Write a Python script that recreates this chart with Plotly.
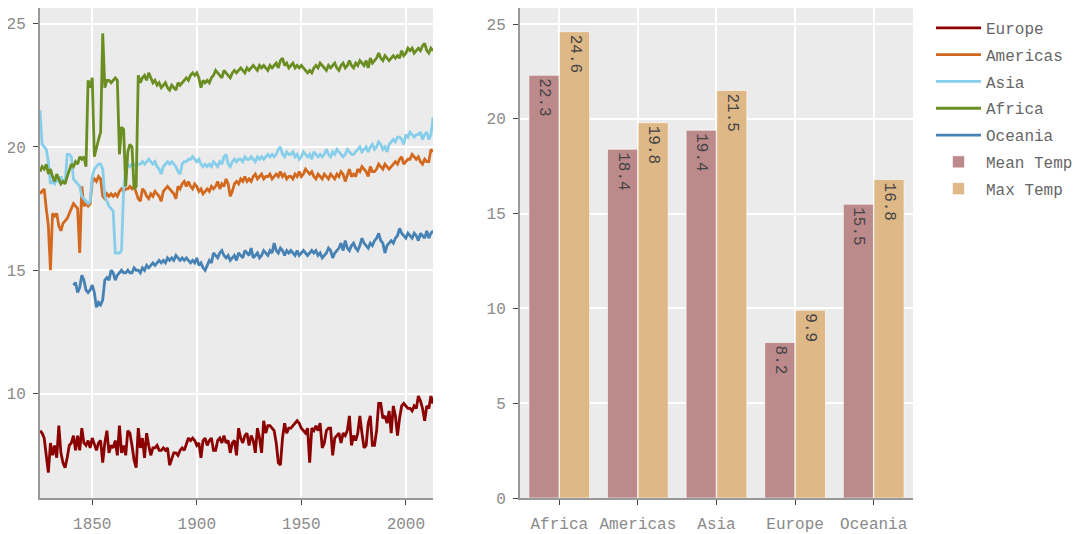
import plotly.graph_objects as go

YEARS = list(range(1825, 2014))

EUROPE = [
    8.5, 8.4, 8.2, 7.6, 6.8, 8.0, 7.5, 7.9, 7.4, 8.7,
    7.6, 7.2, 7.0, 7.4, 7.9, 8.0, 8.3, 7.7, 8.3, 7.7,
    8.6, 8.0, 7.9, 8.1, 7.8, 8.2, 7.9, 7.7, 8.0, 8.1,
    7.2, 8.0, 8.5, 7.6, 7.9, 7.8, 8.1, 7.5, 8.7, 7.6,
    7.9, 7.5, 8.5, 8.4, 7.9, 7.3, 7.0, 8.6, 7.8, 8.2,
    7.4, 8.4, 7.9, 7.5, 7.8, 7.8, 7.9, 7.7, 7.7, 7.8,
    7.7, 7.8, 7.1, 7.4, 7.6, 7.6, 7.5, 7.7, 7.8, 7.7,
    8.0, 8.2, 8.1, 8.2, 8.1, 7.9, 8.0, 7.4, 8.1, 8.2,
    7.9, 8.1, 8.2, 7.7, 7.7, 8.1, 8.2, 8.0, 8.3, 8.0,
    8.1, 7.6, 8.0, 8.1, 7.5, 8.6, 8.2, 8.0, 8.3, 8.4,
    7.9, 8.3, 8.1, 7.6, 8.6, 8.2, 7.6, 8.9, 8.4, 8.7,
    8.7, 8.6, 8.5, 8.0, 7.2, 7.1, 8.2, 8.8, 8.4, 8.6,
    8.6, 8.7, 8.8, 8.9, 8.8, 8.6, 8.5, 8.4, 8.6, 7.2,
    8.6, 8.5, 8.7, 8.5, 8.8, 7.8, 8.0, 8.5, 8.6, 8.6,
    7.5, 8.2, 8.3, 8.4, 8.0, 8.4, 8.3, 8.5, 9.1, 7.9,
    8.3, 8.1, 8.4, 9.1, 8.4, 7.8, 7.9, 8.8, 9.1, 7.9,
    7.9, 8.5, 9.6, 9.6, 9.0, 9.1, 8.8, 9.3, 8.4, 9.5,
    9.1, 8.3, 9.0, 9.5, 9.6, 9.5, 9.4, 9.4, 9.3, 9.5,
    9.4, 9.9, 9.7, 9.4, 8.9, 9.5, 9.4, 9.9, 9.6,
]

AMERICAS = [
    18.1, 18.2, 18.3, 17.5, 16.8, 15.0, 17.3, 17.2, 17.3, 16.8,
    16.6, 16.9, 17.0, 17.1, 17.3, 17.5, 17.7, 17.6, 17.5, 15.7,
    18.4, 17.6, 17.7, 17.6, 17.7, 18.6, 18.7, 18.6, 18.8, 18.7,
    18.0, 17.9, 18.1, 18.0, 18.1, 18.0, 18.1, 18.0, 18.2, 18.3,
    18.2, 18.3, 18.3, 18.4, 18.3, 18.4, 18.1, 17.9, 17.8, 18.3,
    18.2, 18.0, 17.9, 18.1, 18.0, 18.2, 18.1, 18.0, 17.8, 18.2,
    18.3, 18.4, 18.3, 18.2, 18.1, 17.9, 18.4, 18.3, 18.5, 18.6,
    18.4, 18.6, 18.4, 18.3, 18.5, 18.4, 18.2, 18.3, 18.1, 18.2,
    18.3, 18.2, 18.4, 18.3, 18.4, 18.6, 18.3, 18.5, 18.4, 18.7,
    18.5, 18.0, 18.2, 18.5, 18.6, 18.5, 18.7, 18.6, 18.8, 18.6,
    18.7, 18.6, 18.8, 18.9, 18.7, 18.8, 18.9, 18.7, 18.8, 18.8,
    18.9, 18.7, 18.8, 18.9, 18.8, 19.0, 18.8, 18.9, 18.7, 18.8,
    18.8, 18.7, 18.9, 18.8, 19.0, 18.8, 18.9, 19.1, 19.0, 18.9,
    19.0, 18.8, 18.7, 18.9, 18.8, 18.7, 18.9, 18.8, 18.7, 18.9,
    18.8, 18.7, 18.9, 18.8, 19.0, 18.9, 18.6, 18.9, 19.1, 18.8,
    18.9, 18.8, 19.1, 19.0, 19.2, 19.1, 19.0, 18.8, 19.2, 19.0,
    19.0, 19.1, 19.3, 19.2, 19.1, 19.3, 19.2, 19.1, 19.2, 19.3,
    19.4, 19.3, 19.5, 19.6, 19.3, 19.4, 19.5, 19.5, 19.7, 19.6,
    19.5, 19.6, 19.4, 19.3, 19.5, 19.4, 19.4, 19.9, 19.8,
]

ASIA = [
    21.5, 20.1, 20.0, 19.9, 19.4, 18.5, 18.6, 18.5, 18.7, 18.6,
    18.8, 18.6, 18.5, 19.7, 19.7, 19.6, 18.7, 18.6, 18.5, 18.4,
    18.0, 17.9, 17.8, 17.7, 17.8, 18.8, 19.1, 19.2, 19.3, 19.3,
    19.1, 18.0, 17.8, 17.6, 17.5, 17.4, 15.7, 15.7, 15.7, 15.8,
    18.3, 19.0, 19.3, 19.2, 19.3, 19.3, 19.2, 19.3, 19.3, 19.4,
    19.3, 19.4, 19.5, 19.4, 19.3, 19.4, 19.2, 19.1, 18.9, 19.2,
    19.3, 19.4, 19.3, 19.4, 19.3, 19.2, 19.0, 18.9, 19.3, 19.4,
    19.4, 19.5, 19.5, 19.6, 19.5, 19.4, 19.5, 19.3, 19.2, 19.3,
    19.2, 19.3, 19.2, 19.4, 19.3, 19.2, 19.4, 19.3, 19.6, 19.7,
    19.3, 19.2, 19.4, 19.5, 19.4, 19.5, 19.5, 19.4, 19.6, 19.5,
    19.5, 19.6, 19.5, 19.4, 19.6, 19.5, 19.6, 19.5, 19.6, 19.7,
    19.6, 19.7, 19.6, 19.7, 19.9, 20.0, 19.7, 19.6, 19.8, 19.7,
    19.7, 19.8, 19.6, 19.7, 19.5, 19.6, 19.8, 19.7, 19.6, 19.7,
    19.5, 19.8, 19.7, 19.6, 19.7, 19.6, 19.7, 19.9, 19.7, 19.6,
    19.8, 19.7, 19.9, 19.8, 19.7, 19.6, 19.7, 19.9, 19.8, 19.7,
    19.7, 19.8, 19.9, 20.0, 19.8, 19.9, 20.0, 19.8, 20.0, 20.1,
    19.9, 20.0, 20.2, 20.1, 19.9, 20.0, 19.8, 20.1, 20.2, 20.3,
    20.2, 20.4, 20.4, 20.3, 20.1, 20.5, 20.4, 20.6, 20.5, 20.4,
    20.5, 20.5, 20.6, 20.3, 20.5, 20.6, 20.3, 20.5, 21.2,
]

AFRICA = [
    19.0, 19.2, 19.1, 19.3, 18.9, 19.1, 18.8, 18.6, 18.9, 18.7,
    18.5, 18.6, 18.5, 18.8, 19.1, 19.3, 19.2, 19.4, 19.3, 19.6,
    19.5, 19.6, 19.2, 22.7, 22.4, 22.8, 19.6, 20.0, 20.3, 20.6,
    24.6, 22.4, 22.7, 22.7, 22.6, 22.7, 22.8, 22.7, 19.7, 20.8,
    20.7, 18.4, 19.8, 20.1, 20.0, 18.3, 18.4, 22.9, 22.6, 22.8,
    22.9, 22.7, 23.0, 22.8, 22.6, 22.7, 22.5, 22.6, 22.4, 22.5,
    22.6, 22.4, 22.3, 22.5, 22.4, 22.3, 22.6, 22.5, 22.6, 22.7,
    22.8, 22.7, 22.9, 23.0, 22.9, 23.0, 22.8, 22.4, 22.7, 22.6,
    22.7, 22.6, 22.8, 22.9, 23.1, 23.0, 22.9, 22.8, 23.1, 23.0,
    22.9, 22.8, 23.0, 23.1, 23.0, 23.1, 23.2, 23.1, 23.0, 23.2,
    23.1, 23.2, 23.3, 23.2, 23.1, 23.3, 23.2, 23.3, 23.2, 23.1,
    23.3, 23.2, 23.3, 23.4, 23.2, 23.5, 23.6, 23.3, 23.4, 23.2,
    23.3, 23.4, 23.2, 23.3, 23.2, 23.3, 23.2, 23.1, 23.0, 23.1,
    23.0, 23.2, 23.3, 23.2, 23.4, 23.3, 23.2, 23.1, 23.3, 23.2,
    23.3, 23.4, 23.2, 23.1, 23.3, 23.4, 23.2, 23.3, 23.5, 23.3,
    23.2, 23.4, 23.3, 23.5, 23.4, 23.3, 23.5, 23.2, 23.6, 23.4,
    23.5, 23.6, 23.8, 23.6, 23.5, 23.7, 23.6, 23.5, 23.6, 23.7,
    23.6, 23.7, 23.6, 23.9, 23.7, 23.8, 24.0, 23.9, 24.0, 23.8,
    23.9, 24.0, 23.9, 24.1, 24.2, 23.9, 23.8, 24.0, 23.9,
]

OCEANIA = [None] * 16 + [
    14.4, 14.5, 14.1, 14.3,
    14.8, 14.6, 14.2, 14.1, 14.2, 14.4, 14.1, 13.5, 13.7, 13.6,
    13.8, 14.6, 14.7, 14.6, 15.0, 14.9, 14.6, 14.8, 14.9, 15.0,
    14.9, 14.9, 15.0, 14.9, 14.9, 15.1, 15.0, 15.0, 14.9, 15.1,
    15.0, 15.2, 15.1, 15.2, 15.3, 15.2, 15.3, 15.4, 15.3, 15.4,
    15.3, 15.5, 15.4, 15.5, 15.4, 15.6, 15.5, 15.4, 15.5, 15.4,
    15.5, 15.4, 15.3, 15.4, 15.3, 15.5, 15.2, 15.3, 15.1, 15.0,
    15.2, 15.4, 15.3, 15.7, 15.6, 15.5, 15.7, 15.8, 15.6, 15.5,
    15.6, 15.4, 15.5, 15.6, 15.4, 15.7, 15.6, 15.5, 15.8, 15.7,
    15.6, 15.9, 15.5, 15.6, 15.7, 15.5, 15.6, 15.8, 15.7, 15.6,
    15.8, 15.7, 16.1, 15.8, 15.7, 15.9, 15.8, 15.6, 15.8, 15.7,
    15.8, 15.7, 15.6, 15.8, 15.6, 15.7, 15.8, 15.7, 15.6, 15.7,
    15.8, 15.7, 15.8, 15.6, 15.7, 15.5, 15.6, 15.7, 15.9, 15.8,
    15.5, 15.7, 15.8, 15.9, 16.1, 15.8, 16.2, 15.9, 15.8, 16.0,
    16.1, 15.9, 15.8, 16.0, 16.3, 16.1, 16.0, 15.9, 16.1, 16.0,
    16.2, 16.3, 16.5, 16.2, 16.1, 15.7, 16.0, 16.1, 16.2, 16.1,
    16.3, 16.4, 16.7, 16.5, 16.4, 16.3, 16.5, 16.4, 16.3, 16.5,
    16.4, 16.2, 16.5, 16.4, 16.3, 16.6, 16.3, 16.5, 16.6,
]

REGIONS = ["Africa", "Americas", "Asia", "Europe", "Oceania"]
MEAN_TEMP = [22.3, 18.4, 19.4, 8.2, 15.5]
MAX_TEMP = [24.6, 19.8, 21.5, 9.9, 16.8]

FONT = "Liberation Mono, Courier New, monospace"

lines = [
    ("Europe", EUROPE, "#8B0000"),
    ("Americas", AMERICAS, "#D2691E"),
    ("Asia", ASIA, "#87CEEB"),
    ("Africa", AFRICA, "#6B8E23"),
    ("Oceania", OCEANIA, "#4682B4"),
]

fig = go.Figure()
for name, vals, color in lines:
    fig.add_trace(go.Scatter(
        x=YEARS, y=vals, name=name, mode="lines", legendgroup=name,
        line=dict(color=color, width=2.8),
        xaxis="x", yaxis="y",
    ))

for name, vals, color in [("Mean Temp", MEAN_TEMP, "#BC8A8B"), ("Max Temp", MAX_TEMP, "#DEB887")]:
    fig.add_trace(go.Bar(
        x=REGIONS, y=vals, name=name, legendgroup=name,
        marker=dict(color=color, line=dict(color="rgba(255,255,255,0.6)", width=1)),
        text=[f"{v:.1f}" for v in vals], textposition="inside",
        insidetextanchor="end", textangle=90,
        textfont=dict(family=FONT, size=16, color="#444"),
        xaxis="x2", yaxis="y2",
    ))

axis_common = dict(
    showgrid=True, gridcolor="white", gridwidth=1.5,
    showline=True, linecolor="#999", linewidth=2,
    zeroline=False, automargin=False,
    ticks="outside", ticklen=5, tickcolor="#444",
    tickfont=dict(family=FONT, size=16, color="#8a8a8a"),
)

# the page body adds an 8px offset, so the figure is sized to the remaining viewport
fig.update_layout(
    width=1075, height=526,
    margin=dict(l=32, r=170, t=0, b=36),
    paper_bgcolor="white", plot_bgcolor="#EBEBEB",
    font=dict(family=FONT, size=16, color="#666"),
    barmode="group", bargap=0.22, bargroupgap=0.02,
    xaxis=dict(domain=[0, 0.4502], range=[1825, 2013], tickvals=[1850, 1900, 1950, 2000],
               ticklabelstandoff=5, **axis_common),
    yaxis=dict(range=[5.77, 25.63], tickvals=[10, 15, 20, 25], ticklabelstandoff=4,
               **axis_common),
    xaxis2=dict(domain=[0.5498, 1], anchor="y2", ticklabelstandoff=5, **axis_common),
    yaxis2=dict(anchor="x2", range=[0, 25.85], tickvals=[0, 5, 10, 15, 20, 25],
                ticklabelstandoff=4, **axis_common),
    legend=dict(x=1.0206, y=0.994, xanchor="left", yanchor="top", itemwidth=45,
                font=dict(family=FONT, size=16, color="#666"), tracegroupgap=3),
)

fig.write_html("out.html")
